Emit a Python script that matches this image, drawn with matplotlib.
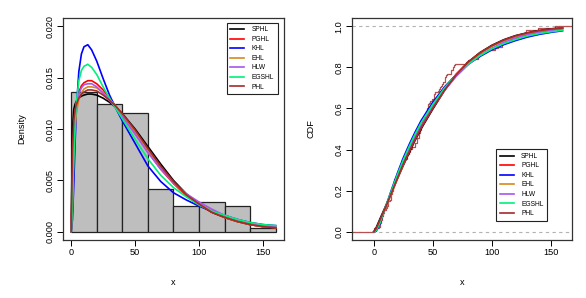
import numpy as np
import matplotlib
matplotlib.use("Agg")
import matplotlib.pyplot as plt

plt.rcParams['font.family'] = ['Liberation Sans', 'DejaVu Sans']

# survival times (n = 121)
times = [0.3, 0.3, 4.0, 5.0, 5.6, 6.2, 6.3, 6.6, 6.8, 7.4, 7.5, 8.4, 8.4, 10.3, 11.0,
         11.8, 12.2, 12.3, 13.5, 14.4, 14.4, 14.8, 15.5, 15.7, 16.2, 16.3, 16.5, 16.8,
         17.2, 17.3, 17.5, 17.9, 19.8, 20.4, 20.9, 21.0, 21.0, 21.1, 23.0, 23.4, 23.6,
         24.0, 24.0, 27.9, 28.2, 29.1, 30.0, 31.0, 31.0, 32.0, 35.0, 35.0, 37.0, 37.0,
         37.0, 38.0, 38.0, 38.0, 39.0, 39.0, 40.0, 40.0, 40.0, 41.0, 41.0, 41.0, 42.0,
         43.0, 43.0, 43.0, 44.0, 45.0, 45.0, 46.0, 46.0, 47.0, 48.0, 49.0, 51.0, 51.0,
         51.0, 52.0, 54.0, 55.0, 56.0, 57.0, 58.0, 59.0, 60.0, 60.0, 60.0, 61.0, 62.0,
         65.0, 65.0, 67.0, 67.0, 68.0, 69.0, 78.0, 80.0, 83.0, 88.0, 89.0, 90.0, 93.0,
         96.0, 103.0, 105.0, 109.0, 109.0, 111.0, 115.0, 117.0, 125.0, 126.0, 127.0,
         129.0, 129.0, 139.0, 154.0]
bins = [0, 20, 40, 60, 80, 100, 120, 140, 160]

models = ["SPHL", "PGHL", "KHL", "EHL", "HLW", "EGSHL", "PHL"]
colors = ["black", "red", "blue", "#D8891C", "#A855F0", "#00F07A", "#A52A2A"]

# fitted densities
pdf_x = [0, 1, 2, 3, 4, 6, 8, 10, 13, 16, 20, 25, 30, 35, 40, 50, 60, 70, 80, 90,
         100, 110, 120, 130, 140, 150, 160]
pdf_sphl = [0, 0.0100, 0.0119, 0.0124, 0.0127, 0.0130, 0.0132, 0.0133, 0.0134, 0.0134,
            0.0133, 0.0130, 0.0126, 0.0121, 0.0115, 0.0100, 0.0083, 0.0066, 0.0050,
            0.0037, 0.0027, 0.0019, 0.0014, 0.0010, 0.0007, 0.0005, 0.0004]
pdf_pghl = [0, 0.0055, 0.0095, 0.0115, 0.0125, 0.0136, 0.0142, 0.0145, 0.0147, 0.0147,
            0.0144, 0.0138, 0.0130, 0.0122, 0.0114, 0.0096, 0.0078, 0.0061, 0.0047,
            0.0035, 0.0026, 0.0019, 0.0014, 0.0010, 0.0007, 0.0005, 0.0004]
pdf_khl = [0, 0.0012, 0.0045, 0.0085, 0.0118, 0.0156, 0.0173, 0.0180, 0.0182, 0.0177,
           0.0166, 0.0149, 0.0133, 0.0120, 0.0108, 0.0086, 0.0064, 0.0049, 0.0038,
           0.0031, 0.0025, 0.0020, 0.0016, 0.0012, 0.0009, 0.0007, 0.0006]
pdf_ehl = [0, 0.0030, 0.0075, 0.0100, 0.0115, 0.0129, 0.0135, 0.0139, 0.0141, 0.0141,
           0.0140, 0.0135, 0.0129, 0.0122, 0.0114, 0.0097, 0.0079, 0.0063, 0.0048,
           0.0036, 0.0027, 0.0020, 0.0014, 0.0010, 0.0007, 0.0005, 0.0004]
pdf_hlw = [0, 0.0040, 0.0085, 0.0110, 0.0122, 0.0134, 0.0140, 0.0143, 0.0144, 0.0144,
           0.0141, 0.0135, 0.0128, 0.0120, 0.0112, 0.0095, 0.0077, 0.0061, 0.0048,
           0.0037, 0.0029, 0.0022, 0.0016, 0.0012, 0.0009, 0.0006, 0.0005]
pdf_egshl = [0, 0.0025, 0.0070, 0.0105, 0.0125, 0.0147, 0.0157, 0.0161, 0.0163, 0.0160,
             0.0153, 0.0141, 0.0130, 0.0120, 0.0110, 0.0090, 0.0071, 0.0055, 0.0043,
             0.0034, 0.0026, 0.0020, 0.0016, 0.0012, 0.0009, 0.0007, 0.0006]
pdf_phl = [0, 0.0080, 0.0108, 0.0118, 0.0124, 0.0130, 0.0134, 0.0136, 0.0138, 0.0138,
           0.0137, 0.0133, 0.0128, 0.0122, 0.0115, 0.0099, 0.0081, 0.0064, 0.0049,
           0.0036, 0.0027, 0.0019, 0.0014, 0.0010, 0.0007, 0.0005, 0.0004]

# fitted cdfs
cdf_x = [0, 2, 5, 10, 15, 20, 25, 30, 35, 40, 50, 60, 70, 80, 90, 100, 110, 120,
         130, 140, 150, 160]
cdf_sphl = [0, 0.020, 0.060, 0.125, 0.190, 0.258, 0.323, 0.385, 0.445, 0.500, 0.597,
            0.688, 0.765, 0.826, 0.872, 0.907, 0.934, 0.954, 0.968, 0.979, 0.987, 0.992]
cdf_pghl = [0, 0.012, 0.050, 0.120, 0.193, 0.265, 0.335, 0.400, 0.460, 0.515, 0.610,
            0.695, 0.768, 0.825, 0.870, 0.904, 0.930, 0.950, 0.965, 0.976, 0.984, 0.990]
cdf_khl = [0, 0.003, 0.035, 0.120, 0.205, 0.285, 0.360, 0.425, 0.485, 0.540, 0.630,
           0.705, 0.765, 0.815, 0.853, 0.885, 0.910, 0.930, 0.947, 0.960, 0.970, 0.978]
cdf_ehl = [0, 0.010, 0.045, 0.115, 0.187, 0.258, 0.328, 0.393, 0.453, 0.508, 0.605,
           0.690, 0.765, 0.823, 0.868, 0.903, 0.930, 0.950, 0.965, 0.976, 0.984, 0.990]
cdf_hlw = [0, 0.010, 0.048, 0.120, 0.193, 0.265, 0.333, 0.398, 0.457, 0.512, 0.605,
           0.688, 0.757, 0.813, 0.858, 0.893, 0.921, 0.942, 0.958, 0.970, 0.979, 0.986]
cdf_egshl = [0, 0.006, 0.042, 0.122, 0.200, 0.278, 0.350, 0.415, 0.475, 0.530, 0.620,
             0.700, 0.765, 0.817, 0.857, 0.890, 0.915, 0.935, 0.952, 0.964, 0.973, 0.980]
cdf_phl = [0, 0.015, 0.055, 0.120, 0.190, 0.260, 0.330, 0.390, 0.450, 0.505, 0.600,
           0.690, 0.765, 0.825, 0.870, 0.905, 0.932, 0.953, 0.967, 0.978, 0.986, 0.991]

pdfs = [pdf_sphl, pdf_pghl, pdf_khl, pdf_ehl, pdf_hlw, pdf_egshl, pdf_phl]
cdfs = [cdf_sphl, cdf_pghl, cdf_khl, cdf_ehl, cdf_hlw, cdf_egshl, cdf_phl]

FS = 6.6


def r_style(ax):
    for s in ax.spines.values():
        s.set_linewidth(0.9)
        s.set_color("#333333")
    ax.tick_params(direction="out", length=4, width=0.7, labelsize=FS, pad=2)
    for lab in ax.get_yticklabels():
        lab.set_rotation(90)
        lab.set_va("center")


def add_legend(ax, anchor):
    leg = ax.legend(loc="upper left", bbox_to_anchor=anchor, fontsize=4.8,
                    frameon=True, fancybox=False, framealpha=1, edgecolor="#222222",
                    borderaxespad=0, handlelength=2.1, handletextpad=1.1,
                    labelspacing=0.38, borderpad=0.55)
    leg.get_frame().set_linewidth(0.8)


def draw_density(ax):
    # R style right-closed bins: (a, b]
    t = np.array(times)
    b = np.array(bins)
    counts = np.histogram(-t, bins=-b[::-1])[0][::-1]
    ax.hist(b[:-1], bins=b, weights=counts / (len(t) * np.diff(b)),
            color="#BEBEBE", edgecolor="#222222", linewidth=0.9)
    for name, col, y in zip(models, colors, pdfs):
        ax.plot(pdf_x, y, color=col, lw=1.2, label=name)
    ax.set_xlim(-6.4, 166.4)
    ax.set_ylim(-0.0008, 0.0208)
    ax.set_xticks([0, 50, 100, 150])
    ax.set_yticks([0, 0.005, 0.01, 0.015, 0.02])
    ax.set_yticklabels(["0.000", "0.005", "0.010", "0.015", "0.020"])
    ax.set_xlabel("x", fontsize=FS, labelpad=15)
    ax.set_ylabel("Density", fontsize=FS, labelpad=14)
    r_style(ax)
    add_legend(ax, (0.741, 0.979))


def draw_cdf(ax):
    xs = np.sort(times)
    n = len(xs)
    ex = np.concatenate([[-30], xs, [200]])
    ey = np.concatenate([[0], np.arange(1, n + 1) / n, [1]])
    ax.axhline(0, color="#B3B3B3", lw=0.8, ls=(0, (3, 3)))
    ax.axhline(1, color="#B3B3B3", lw=0.8, ls=(0, (3, 3)))
    ax.step(ex, ey, where="post", color="#B45050", lw=0.9)
    for name, col, y in zip(models, colors, cdfs):
        ax.plot(cdf_x, y, color=col, lw=1.2, label=name)
    ax.set_xlim(-18.5, 168)
    ax.set_ylim(-0.04, 1.04)
    ax.set_xticks([0, 50, 100, 150])
    ax.set_yticks([0, 0.2, 0.4, 0.6, 0.8, 1.0])
    ax.set_yticklabels(["0.0", "0.2", "0.4", "0.6", "0.8", "1.0"])
    ax.set_xlabel("x", fontsize=FS, labelpad=15)
    ax.set_ylabel("CDF", fontsize=FS, labelpad=14)
    r_style(ax)
    add_legend(ax, (0.655, 0.409))


def go():
    fig = plt.figure(figsize=(5.86, 2.98), dpi=100)
    ax1 = fig.add_axes([0.1075, 0.1946, 0.377, 0.745])
    ax2 = fig.add_axes([0.6007, 0.1946, 0.3754, 0.745])
    draw_density(ax1)
    draw_cdf(ax2)
    fig.savefig("out.png", dpi=100)
    plt.close(fig)


if __name__ == "__main__":
    go()
